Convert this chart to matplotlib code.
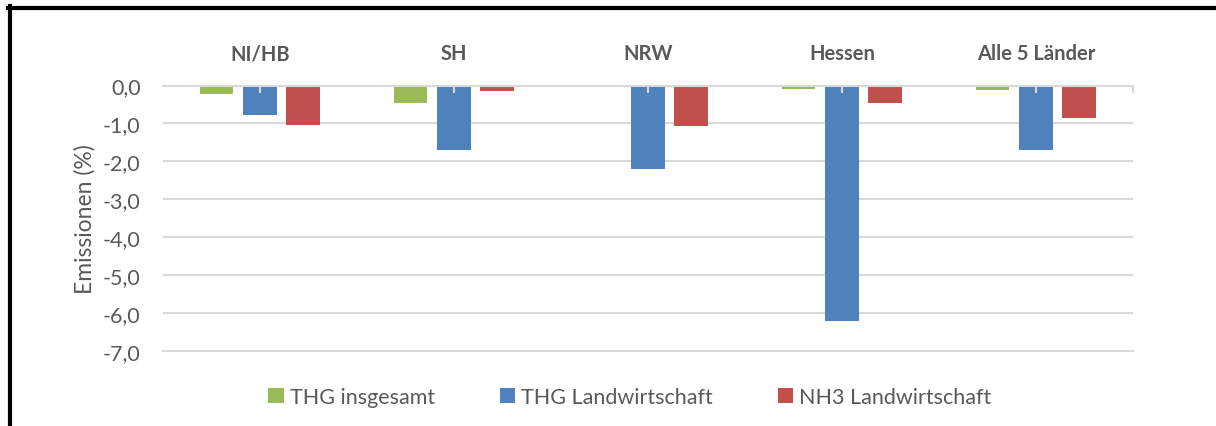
import matplotlib.pyplot as plt
from matplotlib.lines import Line2D
from matplotlib.ticker import FuncFormatter
import numpy as np

# Regionen und Werte (Veraenderung der Emissionen in %)
regions = ["NI/HB", "SH", "NRW", "Hessen", "Alle 5 Länder"]
thg_insgesamt = [-0.22, -0.46, -0.04, -0.08, -0.13]
thg_landwirtschaft = [-0.78, -1.70, -2.20, -6.22, -1.70]
nh3_landwirtschaft = [-1.04, -0.15, -1.07, -0.47, -0.86]

series = [
    ("THG insgesamt", thg_insgesamt, "#9BBB59"),
    ("THG Landwirtschaft", thg_landwirtschaft, "#4F81BD"),
    ("NH3 Landwirtschaft", nh3_landwirtschaft, "#C0504D"),
]

plt.rcParams["font.family"] = ["Lato", "DejaVu Sans"]
text_col = "#595959"
grid_col = "#d9d9d9"

fig = plt.figure(figsize=(12.16, 4.27), dpi=100)
ax = fig.add_axes([0.134, 0.1756, 0.7977, 0.6218])

x = np.arange(len(regions))
width = 0.175
step = 0.224
for i, (name, vals, col) in enumerate(series):
    ax.bar(x + (i - 1) * step, vals, width, color=col, label=name, zorder=1)

ax.set_xlim(-0.5, len(regions) - 0.5)
ax.set_ylim(-7, 0)
ax.set_yticks(np.arange(-7, 1, 1))
ax.yaxis.set_major_formatter(FuncFormatter(lambda v, p: f"{v:.1f}".replace(".", ",")))
ax.tick_params(axis="y", length=0, labelsize=15.5, labelcolor=text_col, pad=16)
ax.set_ylabel("Emissionen (%)", fontsize=16.5, color=text_col, labelpad=5)

# Kategorien oben an der Null-Linie
ax.xaxis.tick_top()
ax.set_xticks(x)
ax.set_xticklabels(regions, fontsize=14.5, fontweight="bold", color=text_col)
ax.set_xticks([len(regions) - 0.5], minor=True)
ax.tick_params(axis="x", which="both", direction="in", length=5, width=1.5,
               color=grid_col, pad=16)

ax.grid(axis="y", color=grid_col, linewidth=1.5)
ax.set_axisbelow(True)
ax.xaxis.set_zorder(3)

for side in ["left", "right"]:
    ax.spines[side].set_visible(False)
for side in ["top", "bottom"]:
    ax.spines[side].set_color(grid_col)
    ax.spines[side].set_linewidth(1.5)

fig.legend(loc="center", bbox_to_anchor=(0.518, 0.068), ncol=3, frameon=False,
           fontsize=15.5, labelcolor=text_col, handlelength=0.7, handleheight=0.7,
           handletextpad=0.3, columnspacing=3.0)

# schwarzer Rahmen (links und oben)
fig.add_artist(Line2D([10 / 1216, 10 / 1216], [0, 1 - 7 / 427], color="black",
                      linewidth=3, transform=fig.transFigure))
fig.add_artist(Line2D([8 / 1216, 1], [1 - 9 / 427, 1 - 9 / 427], color="black",
                      linewidth=3, transform=fig.transFigure))

fig.savefig("out.png", dpi=100)
